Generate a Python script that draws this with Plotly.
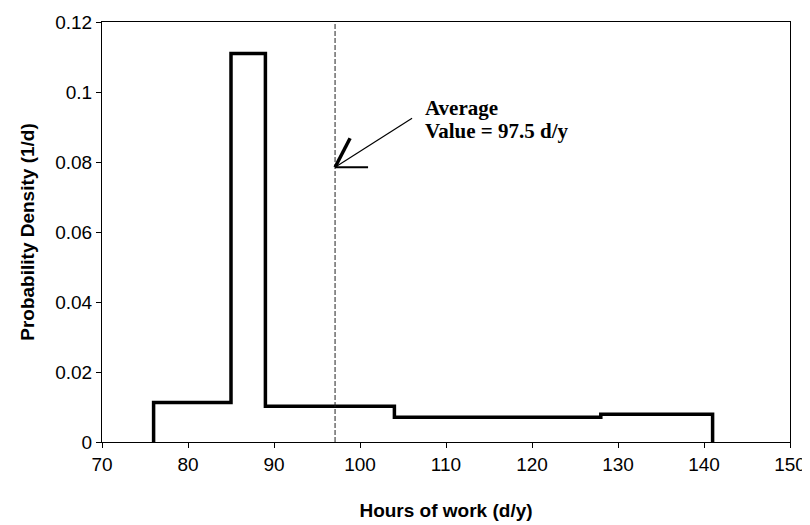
import plotly.graph_objects as go

# Histogram bin edges (hours of work, d/y) and probability densities (1/d)
bin_edges = [76, 85, 89, 104, 128, 141]
densities = [0.0113, 0.111, 0.0102, 0.0071, 0.0079]

avg_line_x = 97.1          # position of dashed average line
avg_label = "Average"
avg_value_text = "Value = 97.5 d/y"
arrow_tip_y = 0.0785

x_ticks = [70, 80, 90, 100, 110, 120, 130, 140, 150]
y_ticks = [0, 0.02, 0.04, 0.06, 0.08, 0.1, 0.12]
y_tick_text = ["0", "0.02", "0.04", "0.06", "0.08", "0.1", "0.12"]

# Build the step outline from the histogram
xs = [bin_edges[0]]
ys = [0]
for e, d in zip(bin_edges[:-1], densities):
    xs.append(e)
    ys.append(d)
xs.append(bin_edges[-1])
ys.append(densities[-1])
xs.append(bin_edges[-1])
ys.append(0)

fig = go.Figure()
fig.add_trace(go.Scatter(
    x=xs, y=ys, mode="lines", line=dict(color="black", width=3.5, shape="hv"),
    showlegend=False, hoverinfo="skip"))

# dashed average line
fig.add_shape(type="line", xref="x", yref="y", x0=avg_line_x, x1=avg_line_x,
              y0=0, y1=0.12, line=dict(color="#222", width=1, dash="5px,2px"))

# arrow: shaft and two barbs (pixel offsets anchored at the arrow tip)
arrow_parts = [
    (77, 49, 1.2),   # shaft
    (15, 29, 3.5),   # upper barb
    (33, 0, 1.8),    # horizontal barb
]
for dx, dy, w in arrow_parts:
    fig.add_shape(type="line", xref="x", yref="y",
                  xsizemode="pixel", ysizemode="pixel",
                  xanchor=avg_line_x, yanchor=arrow_tip_y,
                  x0=0, y0=0, x1=dx, y1=dy,
                  line=dict(color="black", width=w))

serif = dict(family="Liberation Serif, Times New Roman, serif", size=21, color="black")
fig.add_annotation(x=107.3, y=0.0955, xref="x", yref="y", text="<b>" + avg_label + "</b>",
                   showarrow=False, xanchor="left", yanchor="middle", font=serif)
fig.add_annotation(x=107.3, y=0.0888, xref="x", yref="y", text="<b>" + avg_value_text + "</b>",
                   showarrow=False, xanchor="left", yanchor="middle", font=serif)

axis_font = dict(family="Liberation Sans, Arial, sans-serif", size=19, color="black")
title_font = dict(family="Liberation Sans, Arial, sans-serif", size=19, color="black")

fig.update_xaxes(range=[70, 150], tickvals=x_ticks, showline=True, mirror=True,
                 linecolor="black", linewidth=1, ticks="outside", ticklen=5,
                 tickcolor="black", showgrid=False, zeroline=False,
                 tickfont=axis_font,
                 title=dict(text="<b>Hours of work (d/y)</b>", font=title_font, standoff=29))
fig.update_yaxes(range=[0, 0.12], tickvals=y_ticks, ticktext=y_tick_text, showline=True,
                 mirror=True, linecolor="black", linewidth=1, ticks="outside", ticklen=5,
                 tickcolor="black", showgrid=False, zeroline=False,
                 tickfont=axis_font,
                 title=dict(text="<b>Probability Density (1/d)</b>", font=title_font, standoff=15))

fig.update_layout(width=802, height=517, margin=dict(l=94, r=20, t=14, b=83, autoexpand=False),
                  plot_bgcolor="white", paper_bgcolor="white")

fig.write_html("out.html")
